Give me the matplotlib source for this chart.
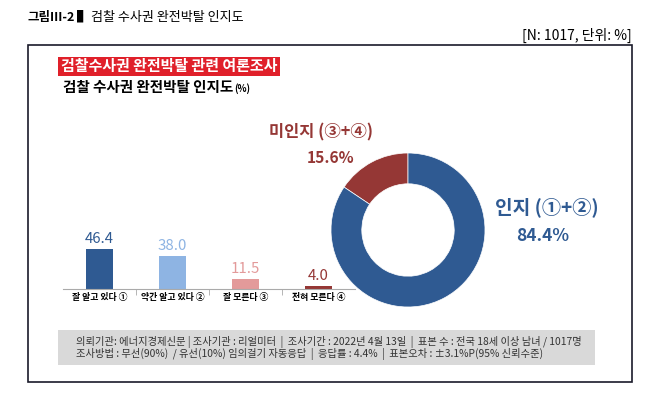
import matplotlib
matplotlib.use("Agg")
import matplotlib.pyplot as plt
from matplotlib.patches import Rectangle

plt.rcParams['font.family'] = ['Noto Sans CJK KR', 'DejaVu Sans']

# 데이터
categories = ["잘 알고 있다 ①", "약간 알고 있다 ②", "잘 모른다 ③", "전혀 모른다 ④"]
values = [46.4, 38.0, 11.5, 4.0]
bar_colors = ["#2F5A92", "#8EB4E3", "#E39A9A", "#953735"]

donut_labels = ["미인지 (③+④)", "인지 (①+②)"]
donut_values = [15.6, 84.4]
donut_colors = ["#953735", "#2F5A92"]

footer_lines = [
    "의뢰기관: 에너지경제신문 | 조사기관 : 리얼미터  |  조사기간 : 2022년 4월 13일  |  표본 수 : 전국 18세 이상 남녀 / 1017명",
    "조사방법 : 무선(90%)  / 유선(10%) 임의걸기 자동응답  |  응답률 : 4.4%  |  표본오차 : ±3.1%P(95% 신뢰수준)",
]

W, H = 654, 393
fig = plt.figure(figsize=(W / 100, H / 100), dpi=100)


def fx(x):
    return x / W


def fy(y):
    return 1 - y / H


# 제목
fig.text(fx(28), fy(17), "그림Ⅲ-2", fontsize=9, fontweight="bold", va="center", ha="left")
fig.text(fx(77), fy(17), "▌", fontsize=9, fontweight="bold", va="center", ha="left")
fig.text(fx(91), fy(17), "검찰 수사권 완전박탈 인지도", fontsize=9.4, va="center", ha="left")
fig.text(fx(632), fy(35), "[N: 1017, 단위: %]", fontsize=10, va="center", ha="right")

# 테두리
fig.patches.append(Rectangle((fx(28), fy(382)), fx(632) - fx(28), fy(45) - fy(382),
                             transform=fig.transFigure, fill=False, edgecolor="#1a1a2a", linewidth=1.2))

# 헤더
fig.patches.append(Rectangle((fx(58), fy(76)), fx(280) - fx(58), fy(57) - fy(76),
                             transform=fig.transFigure, facecolor="#E0202A", edgecolor="none"))
fig.text(fx(169), fy(66.5), "검찰수사권 완전박탈 관련 여론조사", fontsize=10.8, fontweight="bold",
         color="white", va="center", ha="center")
sub = fig.text(fx(63), fy(87), "검찰 수사권 완전박탈 인지도", fontsize=10.5, fontweight="bold",
               color="black", va="center", ha="left")

# 막대 그래프
ax = fig.add_axes([fx(63), fy(289), fx(355) - fx(63), 52 / H])
ax.annotate("(%)", xy=(1, 0.42), xycoords=sub, xytext=(0.5, 0), textcoords="offset points",
            fontsize=6.8, fontweight="bold", va="center", ha="left", annotation_clip=False)
x = range(len(values))
ax.bar(x, values, width=0.37, color=bar_colors)
for i, v in enumerate(values):
    ax.text(i, v + 3.5, f"{v:.1f}", ha="center", va="bottom", fontsize=10.8, color=bar_colors[i])
ax.set_xlim(-0.5, 3.5)
ax.set_ylim(0, 60)
ax.set_yticks([])
ax.set_xticks(list(x))
ax.set_xticklabels(categories, fontsize=6.4, fontweight="bold")
ax.tick_params(axis="x", which="major", length=0, pad=3)
ax.set_xticks([0.5, 1.5, 2.5], minor=True)
ax.tick_params(axis="x", which="minor", length=4, color="#aaaaaa")
for s in ["top", "left", "right"]:
    ax.spines[s].set_visible(False)
ax.spines["bottom"].set_color("#aaaaaa")
ax.spines["bottom"].set_linewidth(0.8)
ax.patch.set_alpha(0)

# 도넛 차트
r = 77
axp = fig.add_axes([fx(408 - r), fy(230 + r), 2 * r / W, 2 * r / H])
axp.pie(donut_values, colors=donut_colors, startangle=90, counterclock=True,
        wedgeprops=dict(width=0.4, edgecolor="white", linewidth=0.5))
axp.set_xlim(-1, 1)
axp.set_ylim(-1, 1)
axp.axis("off")

fig.text(fx(321), fy(132), donut_labels[0], fontsize=11.8, fontweight="bold",
         color=donut_colors[0], ha="center", va="center")
fig.text(fx(331), fy(158), f"{donut_values[0]}%", fontsize=11.2, fontweight="bold",
         color=donut_colors[0], ha="center", va="center")
fig.text(fx(547), fy(207), donut_labels[1], fontsize=13.8, fontweight="bold",
         color=donut_colors[1], ha="center", va="center")
fig.text(fx(543), fy(236), f"{donut_values[1]}%", fontsize=12.5, fontweight="bold",
         color=donut_colors[1], ha="center", va="center")

# 하단 정보
fig.patches.append(Rectangle((fx(58), fy(365)), fx(595) - fx(58), fy(330) - fy(365),
                             transform=fig.transFigure, facecolor="#D9D9D9", edgecolor="none"))
fig.text(fx(76), fy(342), footer_lines[0], fontsize=7.4, color="#333333", va="center", ha="left")
fig.text(fx(76), fy(354), footer_lines[1], fontsize=7.4, color="#333333", va="center", ha="left")

fig.savefig("out.png", dpi=100)
